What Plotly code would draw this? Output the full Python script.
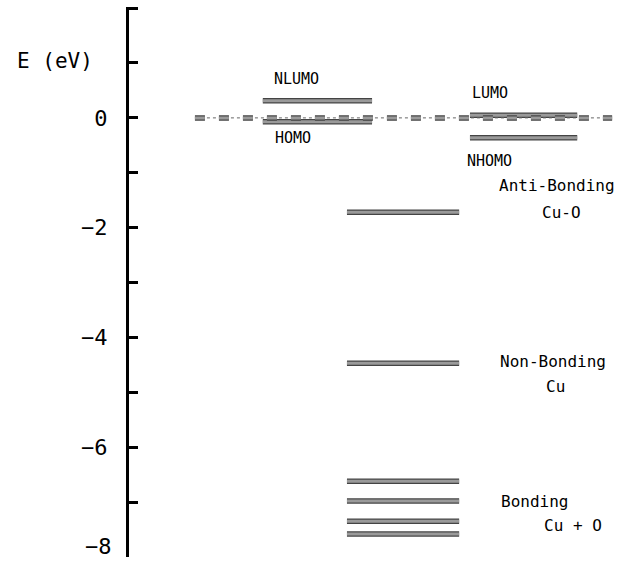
import plotly.graph_objects as go

# ---- data (energies in eV) ----
left_names = ["NLUMO", "HOMO"]
left_energies = [0.31, -0.07]
right_names = ["LUMO", "NHOMO"]
right_energies = [0.05, -0.36]
middle_energies = [-1.72, -4.47, -6.62, -6.98, -7.35, -7.58]
tick_values = [2, 1, 0, -1, -2, -3, -4, -5, -6, -7, -8]
tick_labels = ["", "", "0", "", "\u22122", "", "\u22124", "", "\u22126", "", "\u22128"]

# column extents (x in plot-fraction units)
col_left = (0.272, 0.494)
col_mid = (0.443, 0.671)
col_right = (0.693, 0.911)
zero_span = (0.134, 0.982)

def segs(energies, span):
    xs, ys = [], []
    for e in energies:
        xs += [span[0], span[1], None]
        ys += [e, e, None]
    return xs, ys

fig = go.Figure()

for energies, span in [(left_energies, col_left), (middle_energies, col_mid), (right_energies, col_right)]:
    xs, ys = segs(energies, span)
    fig.add_trace(go.Scatter(x=xs, y=ys, mode="lines", line=dict(color="#444444", width=5.5),
                             hoverinfo="skip", showlegend=False))
    fig.add_trace(go.Scatter(x=xs, y=ys, mode="lines", line=dict(color="#9a9a9a", width=3),
                             hoverinfo="skip", showlegend=False))

# zero reference line (dotted + gray dashes)
zx = [zero_span[0], zero_span[1]]
zy = [0, 0]
fig.add_trace(go.Scatter(x=zx, y=zy, mode="lines", line=dict(color="#666", width=1, dash="dot"),
                         hoverinfo="skip", showlegend=False))
fig.add_trace(go.Scatter(x=zx, y=zy, mode="lines", line=dict(color="#444444", width=5.5, dash="10px,14px"),
                         hoverinfo="skip", showlegend=False))
fig.add_trace(go.Scatter(x=zx, y=zy, mode="lines", line=dict(color="#9a9a9a", width=3, dash="10px,14px"),
                         hoverinfo="skip", showlegend=False))

lab_font = dict(family="DejaVu Sans Mono", size=15, color="black")
big_font = dict(family="DejaVu Sans Mono", size=16, color="black")
tick_font = dict(family="DejaVu Sans Mono", size=22, color="black")

annos = [
    dict(x=0.341, y=0.71, text=left_names[0], xanchor="center", font=lab_font),
    dict(x=0.333, y=-0.36, text=left_names[1], xanchor="center", font=lab_font),
    dict(x=0.734, y=0.45, text=right_names[0], xanchor="center", font=lab_font),
    dict(x=0.732, y=-0.78, text=right_names[1], xanchor="center", font=lab_font),
    dict(x=0.748, y=-1.24, text="Anti-Bonding", xanchor="left", font=big_font),
    dict(x=0.880, y=-1.73, text="Cu-O", xanchor="center", font=big_font),
    dict(x=0.750, y=-4.44, text="Non-Bonding", xanchor="left", font=big_font),
    dict(x=0.866, y=-4.90, text="Cu", xanchor="center", font=big_font),
    dict(x=0.752, y=-6.98, text="Bonding", xanchor="left", font=big_font),
    dict(x=0.839, y=-7.42, text="Cu + O", xanchor="left", font=big_font),
]
for a in annos:
    fig.add_annotation(xref="x", yref="y", showarrow=False, yanchor="middle", **a)

fig.add_annotation(xref="paper", yref="y", x=-0.232, y=1.04, text="E (eV)", showarrow=False,
                   xanchor="left", yanchor="middle",
                   font=dict(family="DejaVu Sans Mono", size=21, color="black"))

# bottom tick label (-8) sits at the very edge of the page, so place it slightly raised
shown_vals = tick_values[:-1]
shown_text = tick_labels[:-1]
fig.add_annotation(xref="paper", yref="y", x=-0.033, y=tick_values[-1] + 0.2, text=tick_labels[-1],
                   showarrow=False, xanchor="right", yanchor="middle", borderpad=0, font=tick_font)

fig.update_layout(
    width=621, height=561,
    margin=dict(l=129, r=0, t=7, b=4),
    paper_bgcolor="white", plot_bgcolor="white",
    xaxis=dict(range=[0, 1], visible=False, fixedrange=True),
    yaxis=dict(range=[-8, 2.02], showgrid=False, zeroline=False, showline=True,
               linecolor="black", linewidth=3, ticks="inside", ticklen=9, tickwidth=2.5,
               tickcolor="black", tickvals=shown_vals, ticktext=shown_text,
               ticklabelstandoff=14, automargin=False,
               tickfont=tick_font, fixedrange=True),
)

fig.write_html("out.html", config={"displayModeBar": False},
               post_script="document.body.style.margin='0px';document.body.style.overflow='hidden';")
